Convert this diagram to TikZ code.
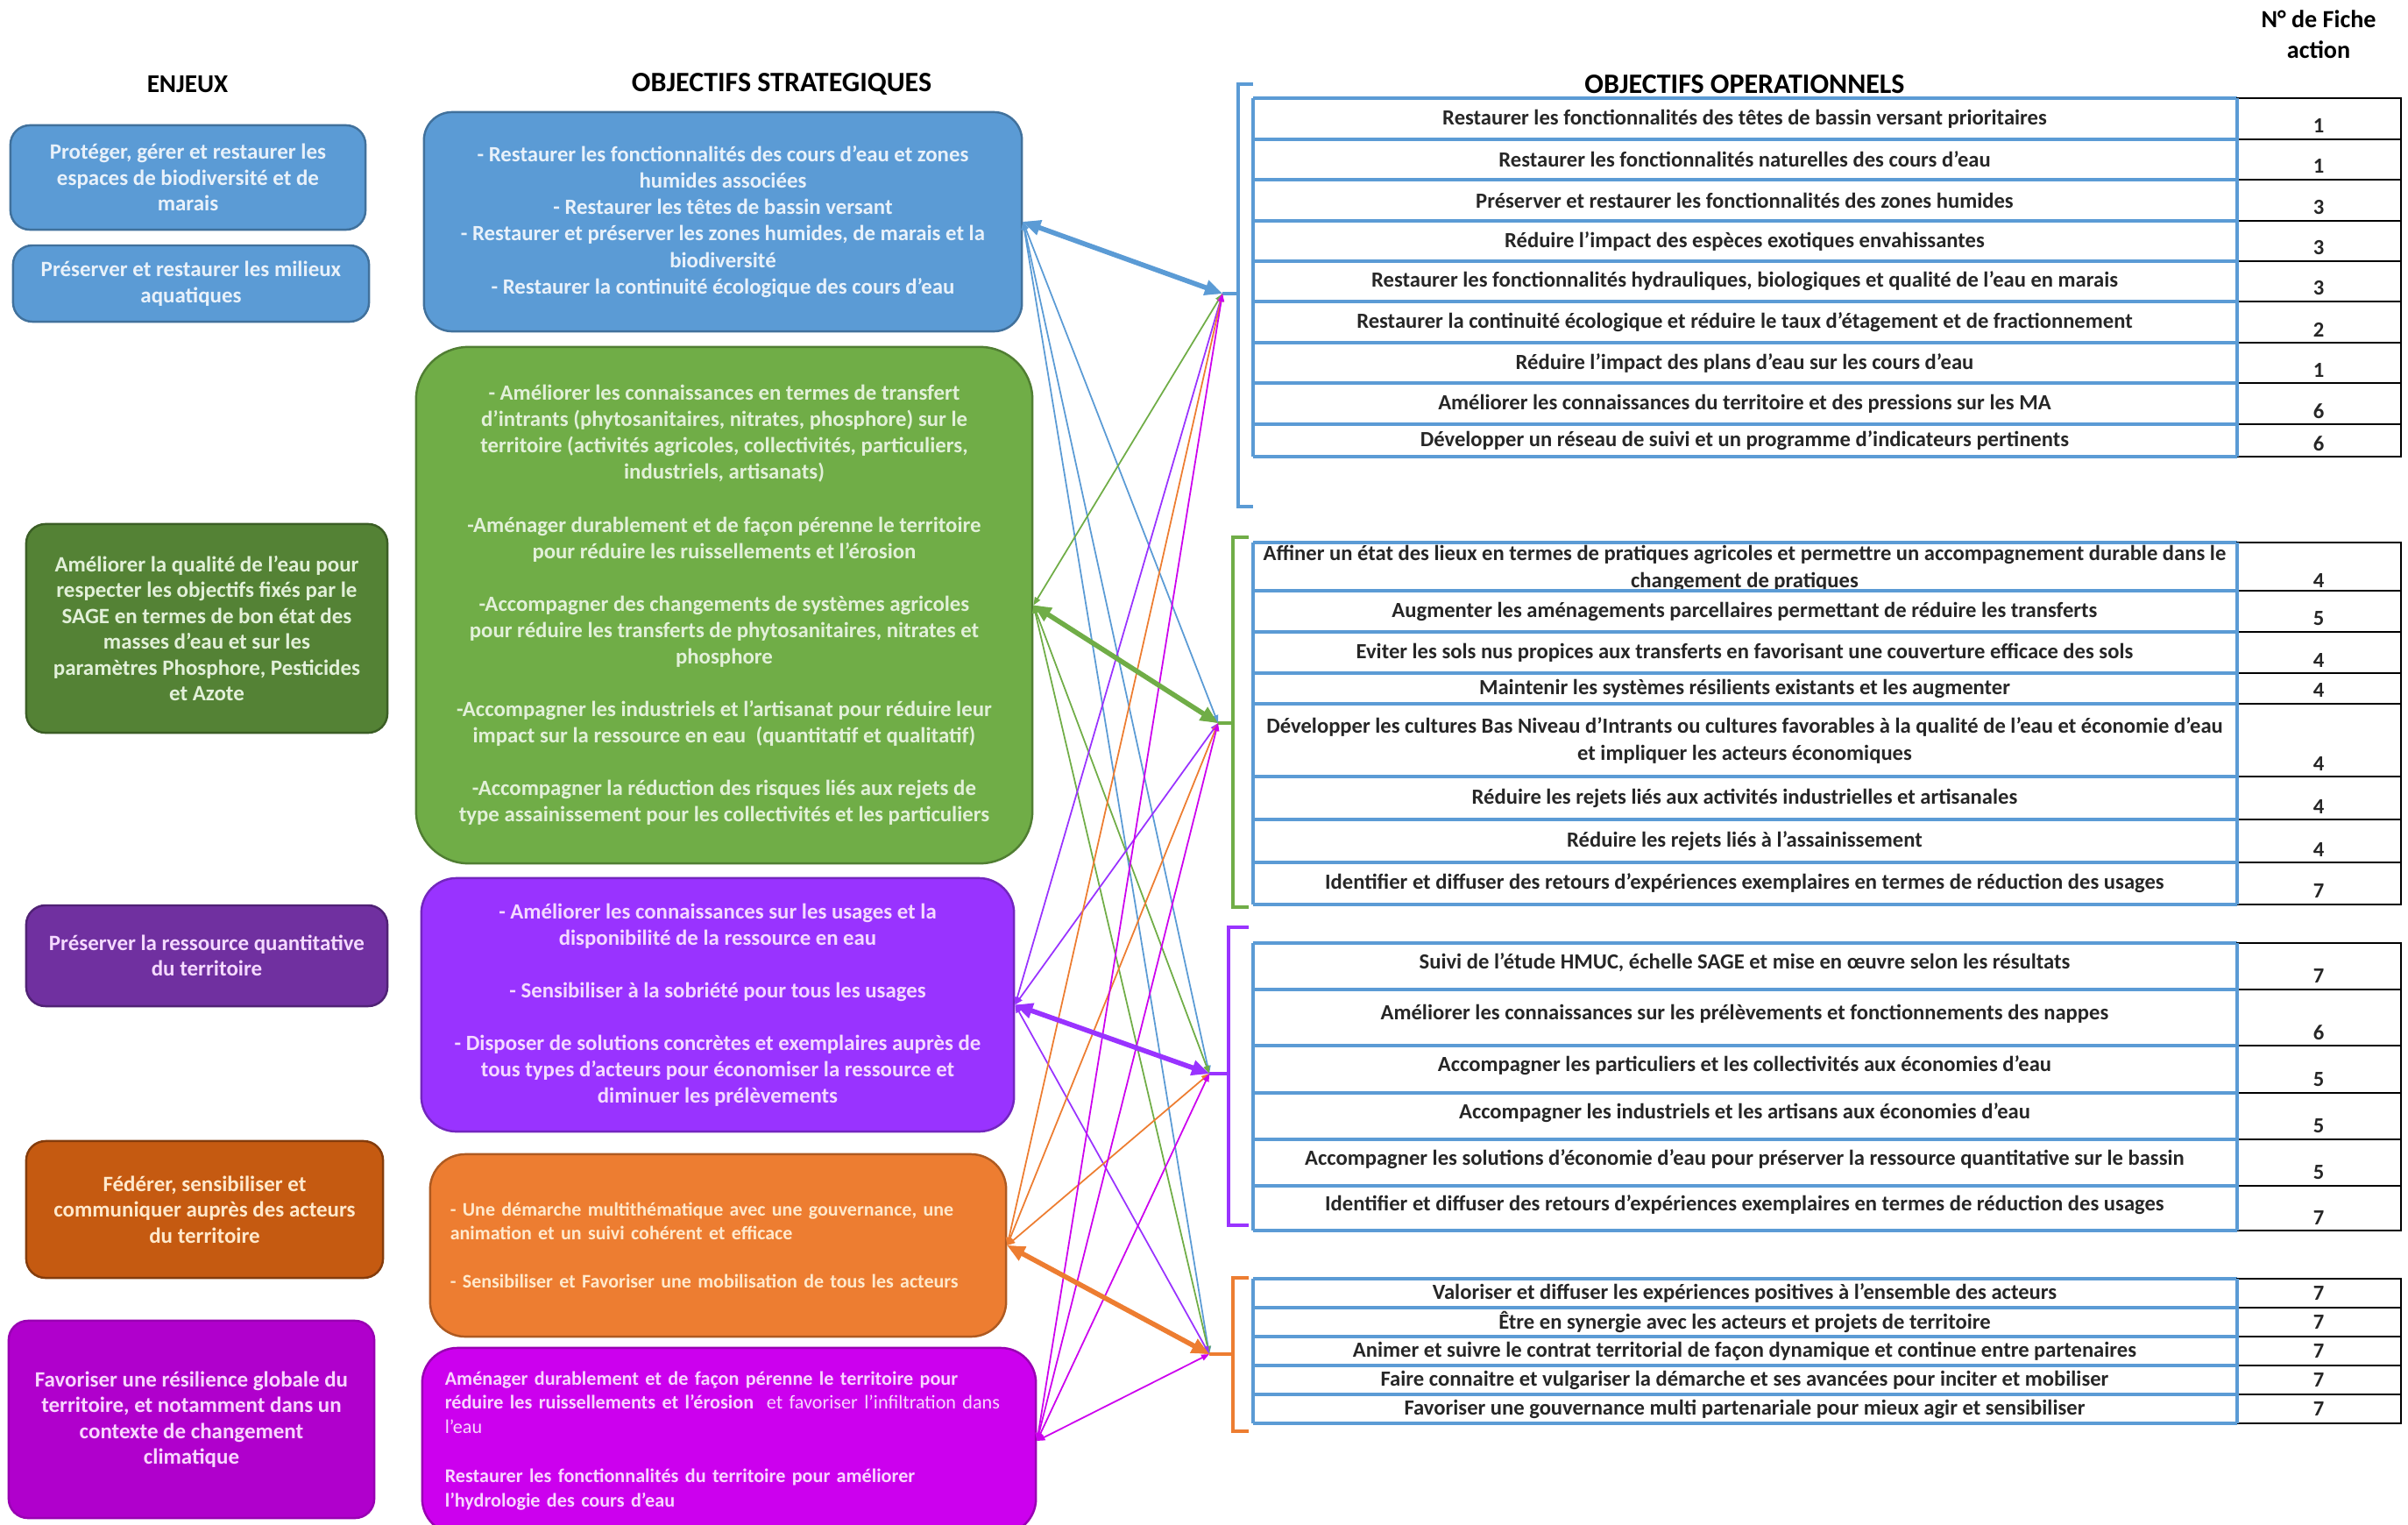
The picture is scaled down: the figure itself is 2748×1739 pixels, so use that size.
\documentclass[tikz,border=0pt]{standalone}
\usepackage{fontspec}
\setmainfont{Carlito}
\usetikzlibrary{arrows.meta}

\definecolor{cBlue}{HTML}{5B9BD5}
\definecolor{cBlueD}{HTML}{41719C}
\definecolor{cGreenL}{HTML}{548235}
\definecolor{cGreenLD}{HTML}{3B5E25}
\definecolor{cGreen}{HTML}{70AD47}
\definecolor{cGreenD}{HTML}{507E32}
\definecolor{cPurpL}{HTML}{7030A0}
\definecolor{cPurpLD}{HTML}{502275}
\definecolor{cPurp}{HTML}{9933FF}
\definecolor{cPurpD}{HTML}{7326BF}
\definecolor{cOrgL}{HTML}{C55A11}
\definecolor{cOrgLD}{HTML}{843C0C}
\definecolor{cOrg}{HTML}{ED7D31}
\definecolor{cOrgD}{HTML}{AE5A21}
\definecolor{cMagL}{HTML}{B000CC}
\definecolor{cMag}{HTML}{CC00EE}
\definecolor{cMagD}{HTML}{9900B3}
\definecolor{tBlue}{HTML}{E8F1FA}
\definecolor{tGreen}{HTML}{E2F0D9}
\definecolor{tPurp}{HTML}{F5D9FF}
\definecolor{tOrg}{HTML}{FFE9CC}
\definecolor{tMag}{HTML}{F9D6FF}
\definecolor{cInk}{HTML}{262626}

\begin{document}
\begin{tikzpicture}[x=0.01cm,y=-0.01cm,
  lbox/.style={draw, line width=0.7pt, rounded corners=0.22cm, inner sep=0pt, align=center,
    font=\bfseries\fontsize{7.1}{8.4}\selectfont},
  mbox/.style={draw, line width=0.7pt, rounded corners=0.32cm, inner sep=0pt, align=center,
    font=\bfseries\fontsize{7.05}{8.55}\selectfont},
  hdr/.style={font=\bfseries\fontsize{9.1}{10}\selectfont, text=black, align=center, inner sep=0pt},
  rowtxt/.style={font=\bfseries\fontsize{7}{8.8}\selectfont, text=cInk, align=center, inner sep=0pt},
  rownum/.style={font=\bfseries\fontsize{7}{8}\selectfont, text=cInk, inner sep=0pt},
  bluerule/.style={draw=cBlue, line width=1.1pt},
  numcell/.style={draw=black, line width=0.5pt},
  brk/.style={line width=1.2pt, line join=miter},
  thinlink/.style={line width=0.5pt, {Triangle[length=0.09cm,width=0.07cm]}-{Triangle[length=0.09cm,width=0.07cm]}},
  thicklink/.style={line width=1.6pt, {Triangle[length=0.2cm,width=0.17cm]}-{Triangle[length=0.2cm,width=0.17cm]}}
]
\useasboundingbox (0,0) rectangle (2748,1739);

% ---------- column headings ----------
\node[hdr, font=\bfseries\fontsize{8.3}{10}\selectfont] (hEnjeux) at (214,96) {ENJEUX};
\node[hdr] (hStrat) at (892,96) {OBJECTIFS STRATEGIQUES};
\node[hdr] (hOper) at (1991,96) {OBJECTIFS OPERATIONNELS};
\node[hdr, font=\bfseries\fontsize{8}{10}\selectfont] (hFiche) at (2646,39) {N° de Fiche\\action};

% ---------- enjeux ----------
\node[lbox, fill=cBlue, draw=cBlueD, text=tBlue, minimum width=4.05cm, minimum height=1.19cm] (l1) at (214.5,202.5)
  {Protéger, gérer et restaurer les\\espaces de biodiversité et de\\marais};
\node[lbox, fill=cBlue, draw=cBlueD, text=tBlue, minimum width=4.06cm, minimum height=0.87cm] (l2) at (218,323.5)
  {Préserver et restaurer les milieux\\aquatiques};
\node[lbox, fill=cGreenL, draw=cGreenLD, text=tGreen, minimum width=4.12cm, minimum height=2.38cm] (l3) at (236,717)
  {Améliorer la qualité de l’eau pour\\respecter les objectifs fixés par le\\SAGE en termes de bon état des\\masses d’eau et sur les\\paramètres Phosphore, Pesticides\\et Azote};
\node[lbox, fill=cPurpL, draw=cPurpLD, text=tPurp, minimum width=4.12cm, minimum height=1.15cm] (l4) at (236,1090.5)
  {Préserver la ressource quantitative\\du territoire};
\node[lbox, fill=cOrgL, draw=cOrgLD, text=tOrg, minimum width=4.07cm, minimum height=1.56cm] (l5) at (233.5,1380)
  {Fédérer, sensibiliser et\\communiquer auprès des acteurs\\du territoire};
\node[lbox, fill=cMagL, draw=cMagD, text=tMag, minimum width=4.17cm, minimum height=2.25cm] (l6) at (218.5,1619.5)
  {Favoriser une résilience globale du\\territoire, et notamment dans un\\contexte de changement\\climatique};

% ---------- objectifs strategiques ----------
\node[mbox, fill=cBlue, draw=cBlueD, text=tBlue, minimum width=6.82cm, minimum height=2.5cm] (m1) at (825,253)
  {- Restaurer les fonctionnalités des cours d’eau et zones\\humides associées\\- Restaurer les têtes de bassin versant\\- Restaurer et préserver les zones humides, de marais et la\\biodiversité\\- Restaurer la continuité écologique des cours d’eau};
\node[mbox, rounded corners=0.6cm, fill=cGreen, draw=cGreenD, text=tGreen, minimum width=7.03cm, minimum height=5.89cm] (m2) at (826.5,690.5)
  {- Améliorer les connaissances en termes de transfert\\d’intrants (phytosanitaires, nitrates, phosphore) sur le\\territoire (activités agricoles, collectivités, particuliers,\\industriels, artisanats)\\[8.55pt]
   -Aménager durablement et de façon pérenne le territoire\\pour réduire les ruissellements et l’érosion\\[8.55pt]
   -Accompagner des changements de systèmes agricoles\\pour réduire les transferts de phytosanitaires, nitrates et\\phosphore\\[8.55pt]
   -Accompagner les industriels et l’artisanat pour réduire leur\\impact sur la ressource en eau\ \ (quantitatif et qualitatif)\\[8.55pt]
   -Accompagner la réduction des risques liés aux rejets de\\type assainissement pour les collectivités et les particuliers};
\node[mbox, rounded corners=0.4cm, fill=cPurp, draw=cPurpD, text=tPurp, minimum width=6.76cm, minimum height=2.89cm] (m3) at (819,1146.5)
  {- Améliorer les connaissances sur les usages et la\\disponibilité de la ressource en eau\\[8.55pt]
   - Sensibiliser à la sobriété pour tous les usages\\[8.55pt]
   - Disposer de solutions concrètes et exemplaires auprès de\\tous types d’acteurs pour économiser la ressource et\\diminuer les prélèvements};
\node[mbox, rounded corners=0.4cm, fill=cOrg, draw=cOrgD, text=tOrg, align=left, text width=6.11cm, inner xsep=0.23cm,
  minimum width=6.57cm, minimum height=2.08cm, font=\bfseries\fontsize{6.25}{7.8}\selectfont] (m4) at (819.5,1421)
  {- Une démarche multithématique avec une gouvernance, une\\animation et un suivi cohérent et efficace\\[7.8pt]
   - Sensibiliser et Favoriser une mobilisation de tous les acteurs};
\node[mbox, rounded corners=0.4cm, fill=cMag, draw=cMagD, text=tMag, align=left, text width=6.48cm, inner xsep=0.26cm,
  minimum width=7cm, minimum height=2.12cm, font=\bfseries\fontsize{6.3}{7.95}\selectfont] (m5) at (832,1644)
  {Aménager durablement et de façon pérenne le territoire pour\\réduire les ruissellements et l’érosion\ \ {\mdseries et favoriser l'infiltration dans}\\{\mdseries l'eau}\\[7.95pt]
   Restaurer les fonctionnalités du territoire pour améliorer\\l'hydrologie des cours d'eau};

% ---------- objectifs operationnels : tables ----------
% table 1
\draw[bluerule] (1430,112) -- (2553,112);
\foreach \ya/\yb/\txt/\num [count=\i] in {
  112/159/{Restaurer les fonctionnalités des têtes de bassin versant prioritaires}/1,
  159/205/{Restaurer les fonctionnalités naturelles des cours d’eau}/1,
  205/252/{Préserver et restaurer les fonctionnalités des zones humides}/3,
  252/298/{Réduire l’impact des espèces exotiques envahissantes}/3,
  298/344/{Restaurer les fonctionnalités hydrauliques, biologiques et qualité de l’eau en marais}/3,
  344/391/{Restaurer la continuité écologique et réduire le taux d’étagement et de fractionnement}/2,
  391/437/{Réduire l’impact des plans d’eau sur les cours d’eau}/1,
  437/484/{Améliorer les connaissances du territoire et des pressions sur les MA}/6,
  484/521/{Développer un réseau de suivi et un programme d’indicateurs pertinents}/6}{
  \node[rowtxt] (ra\i) at (1991,{(\ya+\yb)/2}) {\txt};
  \node[rownum] (na\i) at (2646,\yb-15) {\num};
  \draw[numcell] (2553,\ya) rectangle (2740,\yb);
  \draw[bluerule] (1430,\yb) -- (2553,\yb);
}
\draw[bluerule] (1430,112) -- (1430,521) (2553,112) -- (2553,521);

% table 2
\draw[bluerule] (1430,619) -- (2553,619);
\foreach \ya/\yb/\txt/\num [count=\i] in {
  619/678/{Affiner un état des lieux en termes de pratiques agricoles et permettre un accompagnement durable dans le\\changement de pratiques}/4,
  674/721/{Augmenter les aménagements parcellaires permettant de réduire les transferts}/5,
  721/768/{Eviter les sols nus propices aux transferts en favorisant une couverture efficace des sols}/4,
  768/803/{Maintenir les systèmes résilients existants et les augmenter}/4,
  803/886/{Développer les cultures Bas Niveau d’Intrants ou cultures favorables à la qualité de l’eau et économie d’eau\\et impliquer les acteurs économiques}/4,
  886/935/{Réduire les rejets liés aux activités industrielles et artisanales}/4,
  935/984/{Réduire les rejets liés à l’assainissement}/4,
  984/1032/{Identifier et diffuser des retours d’expériences exemplaires en termes de réduction des usages}/7}{
  \node[rowtxt] (rb\i) at (1991,{(\ya+\yb)/2}) {\txt};
  \node[rownum] (nb\i) at (2646,\yb-15) {\num};
}
\foreach \ya/\yb in {619/674,674/721,721/768,768/803,803/886,886/935,935/984,984/1032}{
  \draw[numcell] (2553,\ya) rectangle (2740,\yb);
  \draw[bluerule] (1430,\yb) -- (2553,\yb);
}
\draw[bluerule] (1430,619) -- (1430,1032) (2553,619) -- (2553,1032);

% table 3
\draw[bluerule] (1430,1076) -- (2553,1076);
\foreach \ya/\yb/\txt/\num [count=\i] in {
  1076/1129/{Suivi de l’étude HMUC, échelle SAGE et mise en œuvre selon les résultats}/7,
  1129/1193/{Améliorer les connaissances sur les prélèvements et fonctionnements des nappes}/6,
  1193/1247/{Accompagner les particuliers et les collectivités aux économies d’eau}/5,
  1247/1300/{Accompagner les industriels et les artisans aux économies d’eau}/5,
  1300/1353/{Accompagner les solutions d’économie d’eau pour préserver la ressource quantitative sur le bassin}/5,
  1353/1404/{Identifier et diffuser des retours d’expériences exemplaires en termes de réduction des usages}/7}{
  \node[rowtxt] (rc\i) at (1991,{(\ya+\yb)/2-4}) {\txt};
  \node[rownum] (nc\i) at (2646,\yb-15) {\num};
  \draw[numcell] (2553,\ya) rectangle (2740,\yb);
  \draw[bluerule] (1430,\yb) -- (2553,\yb);
}
\draw[bluerule] (1430,1076) -- (1430,1404) (2553,1076) -- (2553,1404);

% table 4
\draw[bluerule] (1430,1459) -- (2553,1459);
\foreach \ya/\yb/\txt [count=\i] in {
  1459/1492/{Valoriser et diffuser les expériences positives à l’ensemble des acteurs},
  1492/1525/{Être en synergie avec les acteurs et projets de territoire},
  1525/1558/{Animer et suivre le contrat territorial de façon dynamique et continue entre partenaires},
  1558/1591/{Faire connaitre et vulgariser la démarche et ses avancées pour inciter et mobiliser},
  1591/1624/{Favoriser une gouvernance multi partenariale pour mieux agir et sensibiliser}}{
  \node[rowtxt] (rd\i) at (1991,{(\ya+\yb)/2}) {\txt};
  \node[rownum] (nd\i) at (2646,{(\ya+\yb)/2}) {7};
  \draw[numcell] (2553,\ya) rectangle (2740,\yb);
  \draw[bluerule] (1430,\yb) -- (2553,\yb);
}
\draw[bluerule] (1430,1459) -- (1430,1624) (2553,1459) -- (2553,1624);

% ---------- group brackets ----------
\coordinate (t1) at (1395,335);
\coordinate (t2) at (1390,825);
\coordinate (t3) at (1380,1225);
\coordinate (t4) at (1380,1545);
\draw[brk, cBlue] (1430,96) -- (1413,96) -- (1413,578) -- (1430,578);
\draw[brk, cBlue] (1413,335) -- (t1);
\draw[brk, cGreen] (1425,613) -- (1407,613) -- (1407,1035) -- (1425,1035);
\draw[brk, cGreen] (1407,825) -- (t2);
\draw[brk, cPurp] (1425,1058) -- (1402,1058) -- (1402,1398) -- (1425,1398);
\draw[brk, cPurp] (1402,1225) -- (t3);
\draw[brk, cOrg] (1425,1458) -- (1407,1458) -- (1407,1633) -- (1425,1633);
\draw[brk, cOrg] (1407,1545) -- (t4);

% ---------- links between strategic and operational objectives ----------
\foreach \s/\c in {m1/cBlue, m2/cGreen, m3/cPurp, m4/cOrg, m5/cMag}{
  \foreach \t in {t1,t2,t3,t4}{
    \draw[thinlink, \c] (\s.east) -- (\t);
  }
}
\draw[thicklink, cBlue] (m1.east) -- (t1);
\draw[thicklink, cGreen] (m2.east) -- (t2);
\draw[thicklink, cPurp] (m3.east) -- (t3);
\draw[thicklink, cOrg] (m4.east) -- (t4);

\end{tikzpicture}
\end{document}
